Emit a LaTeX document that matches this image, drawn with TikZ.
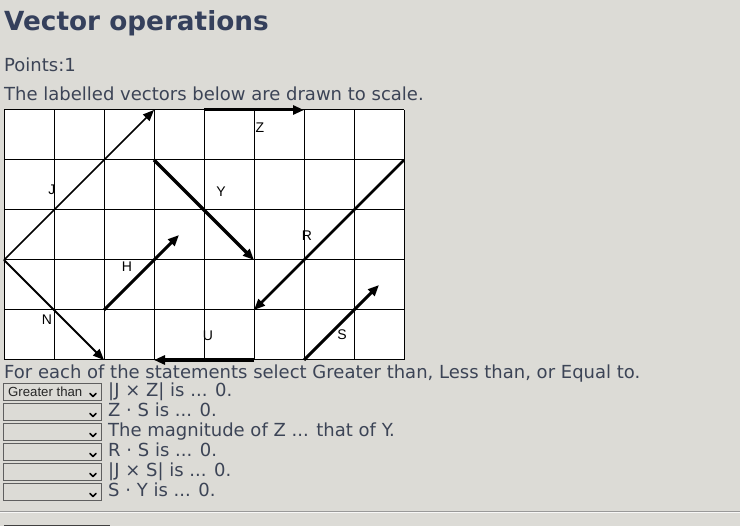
\documentclass[tikz,border=0pt]{standalone}
\usepackage{fontspec}
\setmainfont{DejaVu Sans}
\newfontfamily\selfont{Liberation Sans}
\usetikzlibrary{arrows.meta}
\definecolor{pagebg}{RGB}{220,219,214}
\definecolor{headblue}{RGB}{53,64,92}
\definecolor{bodytext}{RGB}{60,68,86}
\definecolor{boxedge}{RGB}{95,95,95}

\begin{document}
\begin{tikzpicture}[x=1pt,y=-1pt,
            txt/.style = {anchor=base west,inner sep=0pt,text=bodytext,
                font=\fontsize{18}{21}\selectfont},
            lbl/.style = {inner sep=0pt,font=\selfont\fontsize{14}{16}\selectfont},
            vec/.style = {-{Triangle[length=11pt,width=9pt]},line width=#1},
            vec/.default = 2pt,
            gridline/.style = {line width=1pt},
            sel/.style = {draw=boxedge,line width=1pt,minimum width=98pt,
                minimum height=17pt,inner sep=0pt,anchor=north west},
            chev/.style = {line width=1.6pt,line cap=round,line join=round}]
            \useasboundingbox (0,0) rectangle (740,526);
            \fill[pagebg] (0,0) rectangle (740,526);
            % header lines
            \node[txt,text=headblue,font=\bfseries\fontsize{26.3}{31}\selectfont]
                (title) at (4,31) {Vector operations};
            \node[txt](points) at (4,72) {Points:1};
            \node[txt](intro) at (4,101) {The labelled vectors below are drawn to scale.};
            % the grid
            \fill[white] (4,110) rectangle (404,360);
            \foreach \c in {0,...,8}
                \draw[gridline] (4+50*\c,110) -- (4+50*\c,360);
            \foreach \r in {0,...,5}
                \draw[gridline] (4,110+50*\r) -- (404,110+50*\r);
            \foreach \c in {0,...,16}
                \foreach \r in {0,...,10}
                    \coordinate (p-\c-\r) at (4+25*\c,110+25*\r);
            % the vectors
            \path[]
                (p-0-6) edge[vec=1.5pt] (p-6-0)
                (p-8-0) edge[vec=3pt] (p-12-0)
                (p-6-2) edge[vec=3.5pt] (p-10-6)
                (p-16-2) edge[vec=2.5pt] (p-10-8)
                (p-4-8) edge[vec=3pt] (p-7-5)
                (p-0-6) edge[vec=1.8pt] (p-4-10)
                (p-10-10) edge[vec=3.5pt] (p-6-10)
                (p-12-10) edge[vec=3pt] (p-15-7);
            \node[lbl](labJ) at (52,190) {J};
            \node[lbl](labZ) at (260,128) {Z};
            \node[lbl](labY) at (221,192) {Y};
            \node[lbl](labR) at (307,236) {R};
            \node[lbl](labH) at (127,267) {H};
            \node[lbl](labN) at (47,320) {N};
            \node[lbl](labU) at (208,336) {U};
            \node[lbl](labS) at (342,335) {S};
            % the questions
            \node[txt](task) at (4,378.5)
                {For each of the statements select Greater than, Less than, or Equal to.};
            \foreach \i/\q in {0/{|J × Z| is ... 0.},1/{Z · S is ... 0.},
                    2/{The magnitude of Z ... that of Y.},3/{R · S is ... 0.},
                    4/{|J × S| is ... 0.},5/{S · Y is ... 0.}}{
                \node[sel](box\i) at (3,383+20*\i) {};
                \draw[chev] ([xshift=-12pt,yshift=-1.5pt]box\i.east) -- ++(3,3) -- ++(3,-3);
                \node[txt](stmt\i) at (108,397+20*\i) {\q};
            }
            \node[lbl,anchor=west,font=\selfont\fontsize{13.2}{15}\selectfont,
                text=black!85] (choice) at (8,391.5) {Greater than};
            % rule and button edge
            \draw[black!40,line width=1pt] (0,512) -- (740,512);
            \draw[white!80!pagebg,line width=1pt] (0,513) -- (740,513);
            \draw[black!75,line width=1.2pt] (4,525.5) -- (110,525.5);
\end{tikzpicture}
\end{document}
